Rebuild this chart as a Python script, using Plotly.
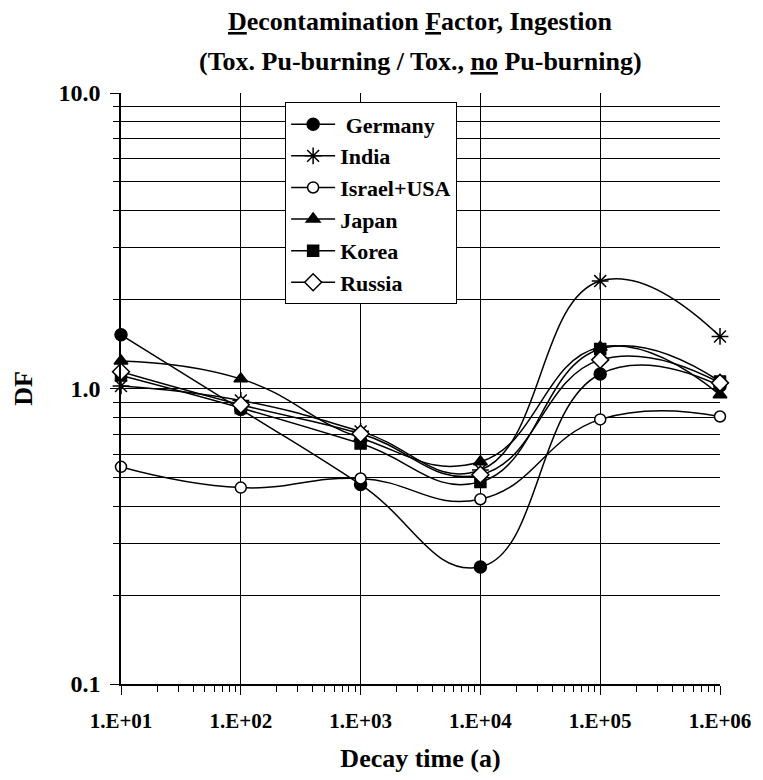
import plotly.graph_objects as go

# ---- data ----
decay_time = [1e1, 1e2, 1e3, 1e4, 1e5, 1e6]
x_tick_vals = [1e1, 1e2, 1e3, 1e4, 1e5, 1e6]
x_tick_text = ["1.E+01", "1.E+02", "1.E+03", "1.E+04", "1.E+05", "1.E+06"]
y_tick_vals = [0.1, 1.0, 10.0]
y_tick_text = ["0.1", "1.0", "10.0"]

germany = [1.52, 0.85, 0.473, 0.249, 1.12, 1.02]
india = [1.02, 0.911, 0.716, 0.53, 2.31, 1.50]
israel_usa = [0.543, 0.462, 0.496, 0.422, 0.786, 0.804]
japan = [1.24, 1.078, 0.68, 0.565, 1.38, 0.952]
korea = [1.106, 0.859, 0.651, 0.483, 1.36, 1.056]
russia = [1.14, 0.881, 0.703, 0.511, 1.25, 1.045]

series = [
    (" Germany", germany, "circle", 12, "black"),
    ("India", india, "asterisk-open", 14, "black"),
    ("Israel+USA", israel_usa, "circle", 11, "white"),
    ("Japan", japan, "triangle-up", 12, "black"),
    ("Korea", korea, "square", 11, "black"),
    ("Russia", russia, "diamond", 13, "white"),
]

FONT = "Liberation Serif, Times New Roman, serif"

fig = go.Figure()
for name, vals, sym, size, fill in series:
    fig.add_trace(go.Scatter(
        x=decay_time, y=vals, name=name, mode="lines+markers",
        line=dict(color="black", width=1.5, shape="spline", smoothing=1.3),
        marker=dict(symbol=sym, size=size, color=fill,
                    line=dict(color="black", width=1.5)),
        cliponaxis=False,
    ))

fig.update_layout(
    width=763, height=780,
    margin=dict(l=121, r=36, t=93, b=95),
    paper_bgcolor="white", plot_bgcolor="white",
    font=dict(family=FONT, color="black", size=22, weight="bold"),
    showlegend=True,
    legend=dict(
        x=0.274, y=0.984, xanchor="left", yanchor="top",
        bgcolor="white", bordercolor="black", borderwidth=1,
        font=dict(family=FONT, size=22, color="black", weight="bold"),
        itemsizing="trace", itemwidth=44,
    ),
    annotations=[
        dict(text="<u>D</u>econtamination <u>F</u>actor, Ingestion",
             xref="paper", yref="paper", x=0.5, y=1.1209,
             xanchor="center", yanchor="middle", showarrow=False,
             font=dict(family=FONT, size=26, color="black", weight="bold")),
        dict(text="(Tox. Pu-burning / Tox., <u>no</u> Pu-burning)",
             xref="paper", yref="paper", x=0.5, y=1.0534,
             xanchor="center", yanchor="middle", showarrow=False,
             font=dict(family=FONT, size=26, color="black", weight="bold")),
    ],
)

fig.update_xaxes(
    type="log", range=[1, 6],
    tickmode="array", tickvals=x_tick_vals, ticktext=x_tick_text,
    ticks="outside", ticklen=9, tickwidth=1.2, tickcolor="black",
    showgrid=True, gridcolor="black", gridwidth=1,
    showline=True, linecolor="black", linewidth=1.5,
    zeroline=False,
    tickfont=dict(family=FONT, size=21, color="black", weight="bold"),
    ticklabelstandoff=8,
    minor=dict(ticks="outside", ticklen=6, tickwidth=1.2, tickcolor="black",
               dtick="D1", showgrid=False),
    title=dict(text="Decay time (a)", standoff=17,
               font=dict(family=FONT, size=26, color="black", weight="bold")),
)

fig.update_yaxes(
    type="log", range=[-1, 1],
    tickmode="array", tickvals=y_tick_vals, ticktext=y_tick_text,
    ticks="outside", ticklen=9, tickwidth=1.2, tickcolor="black",
    showgrid=True, gridcolor="black", gridwidth=1,
    showline=True, linecolor="black", linewidth=1.5,
    zeroline=False,
    tickfont=dict(family=FONT, size=24, color="black", weight="bold"),
    ticklabelstandoff=5,
    minor=dict(ticks="outside", ticklen=6, tickwidth=1.2, tickcolor="black",
               dtick="D1", showgrid=True, gridcolor="black", gridwidth=1),
    title=dict(text="DF", standoff=18,
               font=dict(family=FONT, size=26, color="black", weight="bold")),
)

fig.write_html("out.html", config={"displayModeBar": False},
               post_script="document.body.style.margin='0';")
